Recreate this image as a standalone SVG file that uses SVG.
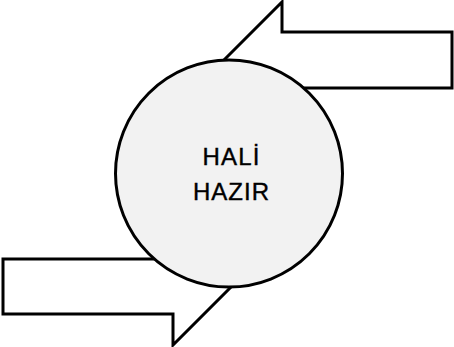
<svg xmlns="http://www.w3.org/2000/svg" width="454" height="347" viewBox="0 0 454 347">
  <style>
    .arrow { fill: #ffffff; stroke: #000000; stroke-width: 3; stroke-linejoin: miter; }
    .node { fill: #f2f2f2; stroke: #000000; stroke-width: 3; }
    .label { font-family: "Liberation Sans", "DejaVu Sans", sans-serif; font-size: 24px; fill: #000000; stroke: #000000; stroke-width: 0.4; text-anchor: middle; }
  </style>
  <rect width="454" height="347" fill="#ffffff"/>
  <g id="connectors">
    <g id="arrow-top">
      <polygon class="arrow" points="452,32 452,88 282,88 282,118 224,60 282,2 282,32"/>
    </g>
    <g id="arrow-bottom">
      <polygon class="arrow" points="3,314 3,259 173,259 173,229 231,287 173,345 173,314"/>
    </g>
  </g>
  <g id="node-hali-hazir">
    <circle class="node" cx="229" cy="173.5" r="113.5"/>
    <text class="label" x="231" y="165" textLength="57" lengthAdjust="spacing">HALİ</text>
    <text class="label" x="231" y="200" textLength="76" lengthAdjust="spacing">HAZIR</text>
  </g>
</svg>
